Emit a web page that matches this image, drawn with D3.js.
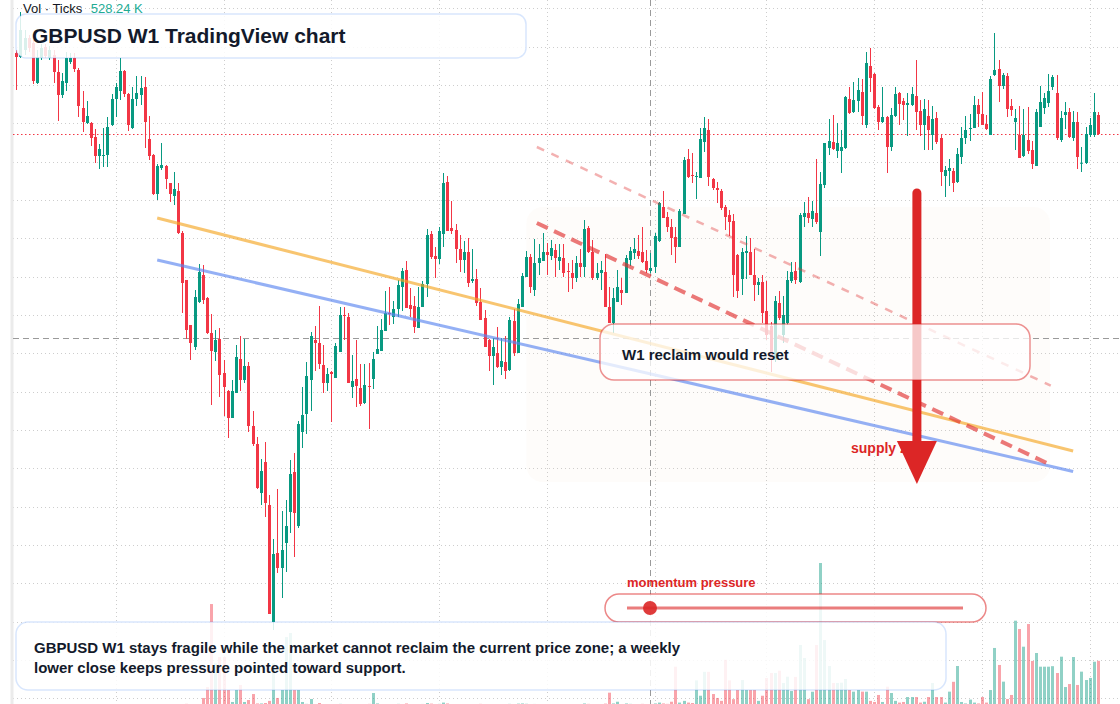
<!DOCTYPE html>
<html>
<head>
<meta charset="utf-8">
<script src="https://cdn.jsdelivr.net/npm/d3@7.9.0/dist/d3.min.js"></script>
<style>
  html, body { margin: 0; padding: 0; background: #fff; }
  svg { display: block; font-family: "Liberation Sans", Arial, Helvetica, sans-serif; }
</style>
</head>
<body>
<svg id="chart" width="1120" height="704"></svg>
<script>
// GBPUSD weekly bars, [open, high, low, close]
const candles = [
  [1.647,1.650,1.610,1.643],[1.643,1.688,1.642,1.670],[1.650,1.670,1.645,1.662],[1.662,1.665,1.648,1.652],[1.657,1.660,1.616,1.619],
  [1.617,1.650,1.616,1.643],[1.642,1.656,1.640,1.652],[1.653,1.656,1.642,1.644],[1.642,1.654,1.640,1.650],[1.645,1.650,1.617,1.628],
  [1.628,1.640,1.579,1.605],[1.605,1.627,1.602,1.619],[1.617,1.648,1.609,1.642],[1.638,1.647,1.636,1.642],[1.642,1.647,1.628,1.631],
  [1.630,1.632,1.583,1.594],[1.592,1.609,1.568,1.578],[1.577,1.599,1.576,1.584],[1.577,1.578,1.554,1.562],[1.563,1.571,1.537,1.544],
  [1.544,1.556,1.531,1.551],[1.544,1.572,1.533,1.545],[1.545,1.583,1.533,1.573],[1.575,1.606,1.574,1.601],[1.601,1.617,1.583,1.613],
  [1.609,1.642,1.600,1.629],[1.629,1.630,1.603,1.606],[1.606,1.607,1.569,1.575],[1.572,1.613,1.571,1.601],[1.601,1.624,1.594,1.607],
  [1.605,1.624,1.595,1.612],[1.613,1.623,1.552,1.578],[1.561,1.584,1.540,1.544],[1.545,1.546,1.505,1.506],[1.506,1.536,1.500,1.534],
  [1.532,1.557,1.530,1.535],[1.534,1.535,1.511,1.521],[1.517,1.517,1.498,1.506],[1.504,1.528,1.495,1.511],[1.509,1.517,1.466,1.467],
  [1.467,1.469,1.387,1.417],[1.420,1.420,1.361,1.370],[1.375,1.375,1.340,1.357],[1.353,1.410,1.350,1.403],[1.398,1.436,1.397,1.428],
  [1.425,1.435,1.396,1.400],[1.402,1.403,1.366,1.367],[1.367,1.386,1.295,1.349],[1.348,1.370,1.339,1.360],[1.361,1.372,1.303,1.325],
  [1.327,1.340,1.284,1.313],[1.309,1.310,1.262,1.282],[1.282,1.320,1.282,1.309],[1.307,1.355,1.307,1.343],[1.341,1.364,1.309,1.320],
  [1.320,1.361,1.317,1.334],[1.334,1.338,1.268,1.274],[1.274,1.289,1.254,1.256],[1.256,1.263,1.211,1.212],[1.207,1.241,1.195,1.229],
  [1.238,1.258,1.183,1.197],[1.195,1.205,1.086,1.086],[1.078,1.161,1.070,1.146],[1.147,1.211,1.127,1.132],[1.132,1.189,1.102,1.150],
  [1.157,1.200,1.128,1.174],[1.188,1.240,1.167,1.226],[1.228,1.247,1.143,1.187],[1.174,1.279,1.172,1.276],[1.268,1.313,1.252,1.285],
  [1.286,1.338,1.266,1.324],[1.320,1.368,1.289,1.364],[1.360,1.374,1.329,1.357],[1.357,1.394,1.331,1.336],[1.335,1.355,1.307,1.317],
  [1.317,1.332,1.309,1.326],[1.328,1.329,1.278,1.326],[1.322,1.357,1.322,1.354],[1.348,1.393,1.348,1.385],[1.385,1.393,1.360,1.384],
  [1.383,1.387,1.317,1.317],[1.313,1.345,1.302,1.319],[1.321,1.360,1.293,1.314],[1.312,1.336,1.294,1.296],[1.297,1.336,1.296,1.315],
  [1.314,1.337,1.271,1.313],[1.321,1.348,1.311,1.341],[1.346,1.374,1.346,1.351],[1.349,1.381,1.349,1.370],[1.369,1.409,1.369,1.387],
  [1.387,1.413,1.375,1.386],[1.383,1.399,1.376,1.391],[1.391,1.420,1.383,1.415],[1.413,1.432,1.389,1.429],[1.430,1.439,1.392,1.392],
  [1.395,1.412,1.383,1.391],[1.394,1.404,1.367,1.373],[1.372,1.413,1.372,1.393],[1.393,1.419,1.393,1.416],[1.416,1.471,1.403,1.465],
  [1.466,1.469,1.441,1.443],[1.444,1.453,1.422,1.441],[1.441,1.473,1.436,1.469],[1.466,1.527,1.453,1.517],[1.518,1.524,1.469,1.469],
  [1.472,1.499,1.466,1.469],[1.470,1.476,1.437,1.451],[1.451,1.465,1.428,1.440],[1.440,1.459,1.427,1.448],[1.448,1.462,1.413,1.417],
  [1.419,1.451,1.417,1.421],[1.421,1.431,1.394,1.397],[1.398,1.412,1.380,1.380],[1.382,1.390,1.353,1.353],[1.360,1.361,1.329,1.344],
  [1.344,1.362,1.315,1.353],[1.347,1.373,1.332,1.333],[1.333,1.362,1.325,1.339],[1.338,1.364,1.321,1.329],[1.330,1.383,1.329,1.380],
  [1.379,1.391,1.344,1.347],[1.347,1.401,1.347,1.396],[1.393,1.427,1.393,1.424],[1.423,1.449,1.423,1.443],[1.443,1.446,1.407,1.413],
  [1.410,1.461,1.404,1.437],[1.437,1.456,1.425,1.442],[1.439,1.467,1.439,1.448],[1.448,1.457,1.425,1.445],[1.444,1.460,1.440,1.452],
  [1.450,1.456,1.423,1.442],[1.439,1.456,1.430,1.443],[1.442,1.456,1.423,1.427],[1.429,1.437,1.408,1.428],[1.427,1.440,1.411,1.422],
  [1.422,1.444,1.418,1.437],[1.437,1.451,1.423,1.433],[1.433,1.480,1.423,1.471],[1.472,1.474,1.447,1.448],[1.448,1.460,1.420,1.422],
  [1.422,1.437,1.420,1.427],[1.427,1.439,1.410,1.430],[1.428,1.446,1.393,1.393],[1.393,1.413,1.377,1.377],[1.377,1.412,1.367,1.402],
  [1.398,1.430,1.398,1.413],[1.410,1.422,1.395,1.407],[1.407,1.445,1.407,1.442],[1.440,1.453,1.434,1.449],[1.447,1.462,1.441,1.451],
  [1.449,1.465,1.441,1.444],[1.448,1.473,1.437,1.438],[1.439,1.450,1.427,1.430],[1.429,1.447,1.427,1.432],[1.433,1.467,1.427,1.464],
  [1.459,1.498,1.458,1.497],[1.493,1.509,1.482,1.482],[1.483,1.488,1.468,1.473],[1.473,1.481,1.445,1.462],[1.463,1.473,1.437,1.453],
  [1.453,1.491,1.453,1.489],[1.486,1.543,1.486,1.540],[1.541,1.551,1.522,1.523],[1.525,1.547,1.517,1.524],[1.523,1.528,1.501,1.524],
  [1.522,1.572,1.522,1.561],[1.558,1.583,1.548,1.572],[1.570,1.581,1.514,1.523],[1.521,1.522,1.510,1.512],[1.512,1.518,1.497,1.510],
  [1.509,1.511,1.490,1.492],[1.493,1.495,1.470,1.483],[1.485,1.490,1.464,1.478],[1.479,1.486,1.403,1.425],[1.445,1.446,1.402,1.409],
  [1.421,1.452,1.405,1.448],[1.447,1.464,1.421,1.449],[1.448,1.462,1.425,1.425],[1.425,1.451,1.399,1.415],[1.415,1.422,1.405,1.418],
  [1.418,1.425,1.377,1.387],[1.389,1.419,1.360,1.365],[1.374,1.378,1.328,1.342],[1.340,1.404,1.338,1.399],[1.397,1.409,1.380,1.382],
  [1.365,1.404,1.357,1.385],[1.377,1.429,1.375,1.420],[1.419,1.438,1.417,1.428],[1.429,1.438,1.416,1.420],[1.418,1.487,1.417,1.485],
  [1.483,1.498,1.473,1.487],[1.487,1.503,1.477,1.482],[1.481,1.499,1.473,1.489],[1.487,1.541,1.476,1.478],[1.468,1.528,1.444,1.516],
  [1.515,1.557,1.512,1.557],[1.552,1.581,1.545,1.559],[1.558,1.585,1.550,1.551],[1.549,1.577,1.542,1.557],[1.549,1.570,1.527,1.553],
  [1.552,1.604,1.551,1.603],[1.601,1.613,1.586,1.587],[1.588,1.618,1.587,1.600],[1.599,1.622,1.588,1.610],[1.608,1.621,1.575,1.584],
  [1.575,1.648,1.572,1.637],[1.634,1.652,1.608,1.622],[1.626,1.627,1.591,1.592],[1.593,1.595,1.570,1.578],[1.578,1.613,1.577,1.583],
  [1.583,1.584,1.527,1.553],[1.553,1.592,1.549,1.585],[1.584,1.613,1.583,1.606],[1.607,1.608,1.575,1.596],[1.599,1.602,1.580,1.595],
  [1.595,1.607,1.564,1.597],[1.595,1.613,1.594,1.606],[1.604,1.640,1.570,1.588],[1.589,1.600,1.564,1.575],[1.575,1.601,1.550,1.591],
  [1.584,1.600,1.550,1.570],[1.565,1.594,1.550,1.581],[1.582,1.588,1.556,1.558],[1.562,1.565,1.514,1.528],[1.524,1.534,1.503,1.530],
  [1.529,1.541,1.514,1.532],[1.529,1.532,1.508,1.517],[1.518,1.552,1.517,1.546],[1.543,1.573,1.536,1.562],[1.562,1.584,1.556,1.570],
  [1.571,1.586,1.559,1.572],[1.572,1.604,1.572,1.595],[1.595,1.601,1.573,1.586],[1.586,1.608,1.575,1.575],[1.576,1.585,1.570,1.571],
  [1.565,1.624,1.565,1.621],[1.625,1.667,1.624,1.630],[1.631,1.640,1.598,1.614],[1.614,1.627,1.611,1.625],[1.624,1.627,1.583,1.591],
  [1.594,1.601,1.584,1.590],[1.578,1.591,1.550,1.582],[1.565,1.594,1.542,1.542],[1.544,1.591,1.543,1.565],[1.560,1.593,1.546,1.549],
  [1.550,1.559,1.531,1.536],[1.534,1.591,1.534,1.588],[1.573,1.614,1.573,1.598],[1.592,1.607,1.586,1.602],[1.597,1.626,1.593,1.609],
  [1.613,1.625,1.610,1.623],[1.607,1.625,1.560,1.562],[1.560,1.589,1.558,1.582],[1.585,1.598,1.571,1.588],[1.588,1.592,1.562,1.563],
  [1.562,1.589,1.559,1.578],[1.578,1.588,1.531,1.543],[1.5365,1.553,1.528,1.5373],[1.537,1.573,1.536,1.566],[1.565,1.582,1.563,1.575],
  [1.565,1.607,1.563,1.588],[1.585,1.588,1.565,1.566]
];

// tick volume, thousands
const volumes = [
  12,15,10,9,14,11,8,10,13,9,
  16,12,10,8,9,14,12,10,11,13,
  9,10,12,11,8,10,9,12,10,8,
  9,14,12,15,11,10,9,12,14,18,
  22,25,20,18,16,94,222,1193,500,573,
  573,187,47,187,246,47,70,140,30,30,
  35,60,500,94,187,807,854,187,187,47,
  25,82,20,35,20,18,22,15,25,20,
  18,15,22,20,18,25,152,30,22,18,
  20,16,25,22,30,18,15,20,24,35,
  28,20,25,40,30,22,18,20,16,22,
  18,20,25,22,18,15,20,18,16,25,
  22,28,30,26,20,24,18,20,22,18,
  20,16,22,18,15,20,18,30,25,22,
  18,20,28,156,30,50,22,30,25,20,
  22,25,20,18,30,40,30,25,50,460,
  40,60,40,35,300,120,400,400,140,94,
  60,540,300,80,187,304,187,187,187,60,
  120,328,386,386,413,269,343,175,340,714,
  562,80,167,714,1673,772,468,269,269,273,
  316,187,168,187,168,168,60,47,129,47,
  226,152,60,40,47,105,105,105,40,50,
  105,269,105,105,40,168,283,468,47,30,
  75,40,30,105,40,187,679,480,285,82,
  129,998,901,694,959,527,620,460,460,460,
  466,386,577,222,257,573,246,402,304,328,
  518,528.24
];

// half-year separators (bar index)
const periodBreaks = [24, 50, 76, 102, 128, 154, 181, 207, 233, 259];
const crossBar = 153;
const crossPrice = 1.362;

// drawn levels: [bar, price] pairs
const orangeTrend = [[34, 1.482], [255, 1.249]];
const blueTrend = [[34, 1.440], [255, 1.2285]];
const upperChannel = [[125.6, 1.553], [249.6, 1.3144]];
const lowerChannel = [[125.6, 1.477], [249.7, 1.235]];
const zoneBars = [123.1, 249.4];
const zonePrices = [1.493, 1.218];
const arrowBar = 217.3;
const arrowPrices = [1.507, 1.259, 1.216];

const W = 1120, H = 704;
const svg = d3.select("#chart");

const x = d3.scaleLinear().domain([0, candles.length - 1]).range([16.3, 1098]);
const y = d3.scaleLinear().domain([1.0, 1.7]).range([700, 0]);
const vy = d3.scaleLinear().domain([0, 1700]).range([706, 560.7]);

const UP = "#089981", DOWN = "#f23645";

svg.append("rect").attr("width", W).attr("height", H).attr("fill", "#fff");

// grid
const gridLevels = d3.range(19).map(k => 1.6915 - k * 0.03833);
svg.append("g").selectAll("line").data(gridLevels).join("line")
  .attr("x1", 13).attr("x2", W)
  .attr("y1", d => Math.round(y(d)) + 0.5).attr("y2", d => Math.round(y(d)) + 0.5)
  .attr("stroke", "#cdcdcd").attr("stroke-dasharray", "1 3");
svg.append("g").selectAll("line").data(periodBreaks).join("line")
  .attr("x1", d => Math.round(x(d)) + 0.5).attr("x2", d => Math.round(x(d)) + 0.5)
  .attr("y1", 0).attr("y2", H)
  .attr("stroke", "#cdcdcd").attr("stroke-dasharray", "1 3");

// left scale edge
svg.append("rect").attr("x", 10.5).attr("y", 0).attr("width", 3).attr("height", H).attr("fill", "#ebebeb");

// supply zone shading
svg.append("rect")
  .attr("x", x(zoneBars[0])).attr("y", y(zonePrices[0]))
  .attr("width", x(zoneBars[1]) - x(zoneBars[0]))
  .attr("height", y(zonePrices[1]) - y(zonePrices[0]))
  .attr("rx", 16).attr("fill", "rgba(240,215,190,0.07)");

// volume
svg.append("g").selectAll("rect").data(volumes).join("rect")
  .attr("x", (d, i) => Math.round(x(i)) - 1)
  .attr("width", 3)
  .attr("y", d => vy(d))
  .attr("height", d => vy(0) - vy(d))
  .attr("fill", (d, i) => candles[i][3] >= candles[i][0] ? UP : DOWN)
  .attr("fill-opacity", 0.45);

// crosshair + last price line
svg.append("line").attr("x1", 13).attr("x2", W)
  .attr("y1", Math.round(y(crossPrice)) + 0.5).attr("y2", Math.round(y(crossPrice)) + 0.5)
  .attr("stroke", "#9a9a9a").attr("stroke-dasharray", "6 4");
svg.append("line").attr("x1", Math.round(x(crossBar)) + 0.5).attr("x2", Math.round(x(crossBar)) + 0.5)
  .attr("y1", 0).attr("y2", H)
  .attr("stroke", "#9a9a9a").attr("stroke-dasharray", "6 4");
const lastClose = candles[candles.length - 1][3];
svg.append("line").attr("x1", 13).attr("x2", W)
  .attr("y1", Math.round(y(lastClose)) + 0.5).attr("y2", Math.round(y(lastClose)) + 0.5)
  .attr("stroke", DOWN).attr("stroke-dasharray", "1.5 2.5");

// candles
const bars = svg.append("g").selectAll("g").data(candles).join("g");
bars.append("line")
  .attr("x1", (d, i) => Math.round(x(i)) + 0.5).attr("x2", (d, i) => Math.round(x(i)) + 0.5)
  .attr("y1", d => y(d[1])).attr("y2", d => y(d[2]))
  .attr("stroke", d => d[3] >= d[0] ? UP : DOWN);
bars.append("rect")
  .attr("x", (d, i) => Math.round(x(i)) - 1)
  .attr("width", 3)
  .attr("y", d => y(Math.max(d[0], d[3])))
  .attr("height", d => Math.max(1, Math.abs(y(d[0]) - y(d[3]))))
  .attr("fill", d => d[3] >= d[0] ? UP : DOWN);

// trend lines
const seg = (pts) => d3.line().x(p => x(p[0])).y(p => y(p[1]))(pts);
svg.append("path").attr("d", seg(orangeTrend)).attr("stroke", "#f5a623").attr("stroke-opacity", 0.65)
  .attr("stroke-width", 3).attr("fill", "none");
svg.append("path").attr("d", seg(blueTrend)).attr("stroke", "#5b86f0").attr("stroke-opacity", 0.65)
  .attr("stroke-width", 3).attr("fill", "none");
svg.append("path").attr("d", seg(upperChannel)).attr("stroke", "#e03131").attr("stroke-opacity", 0.38)
  .attr("stroke-width", 2.5).attr("stroke-dasharray", "8 8").attr("fill", "none");
svg.append("path").attr("d", seg(lowerChannel)).attr("stroke", "#e03131").attr("stroke-opacity", 0.65)
  .attr("stroke-width", 4).attr("stroke-dasharray", "12 7").attr("fill", "none");

// supply label + arrow
svg.append("text").attr("x", 851).attr("y", 453).attr("font-size", 14).attr("font-weight", 700)
  .attr("fill", "#dc2626").text("supply zone");
const ax = x(arrowBar);
svg.append("line").attr("x1", ax).attr("x2", ax)
  .attr("y1", y(arrowPrices[0])).attr("y2", y(arrowPrices[1]) + 4)
  .attr("stroke", "#dc2626").attr("stroke-width", 9).attr("stroke-linecap", "round");
svg.append("path")
  .attr("d", `M${ax - 20},${y(arrowPrices[1])}L${ax + 20},${y(arrowPrices[1])}L${ax},${y(arrowPrices[2])}Z`)
  .attr("fill", "#dc2626");

// note boxes
function box(x0, y0, w, h, r, stroke, fillOpacity) {
  svg.append("rect").attr("x", x0).attr("y", y0).attr("width", w).attr("height", h).attr("rx", r)
    .attr("fill", "#fff").attr("fill-opacity", fillOpacity)
    .attr("stroke", stroke).attr("stroke-width", 1.5);
}

box(600, 324, 430, 56, 14, "rgba(220,38,38,0.5)", 0.75);
svg.append("text").attr("x", 622).attr("y", 359.5).attr("font-size", 15).attr("font-weight", 700)
  .attr("fill", "#131a2b").text("W1 reclaim would reset");

box(16, 14, 510, 44, 10, "rgba(59,130,246,0.2)", 0.85);
svg.append("text").attr("x", 32).attr("y", 43.3).attr("font-size", 21).attr("font-weight", 700)
  .attr("fill", "#131a2b").text("GBPUSD W1 TradingView chart");

// momentum gauge
svg.append("text").attr("x", 627).attr("y", 587).attr("font-size", 13).attr("font-weight", 700)
  .attr("fill", "#dc2626").text("momentum pressure");
box(605, 594, 381, 28, 14, "rgba(220,38,38,0.55)", 0.85);
svg.append("line").attr("x1", 627).attr("x2", 963).attr("y1", 608).attr("y2", 608)
  .attr("stroke", "#dc2626").attr("stroke-opacity", 0.6).attr("stroke-width", 3);
svg.append("circle").attr("cx", 650).attr("cy", 608).attr("r", 7).attr("fill", "#dc2626").attr("fill-opacity", 0.9);

box(16, 622, 930, 68, 12, "rgba(59,130,246,0.2)", 0.85);
const note = svg.append("text").attr("font-size", 15).attr("font-weight", 700).attr("fill", "#131a2b");
note.append("tspan").attr("x", 34).attr("y", 653)
  .text("GBPUSD W1 stays fragile while the market cannot reclaim the current price zone; a weekly");
note.append("tspan").attr("x", 34).attr("y", 673)
  .text("lower close keeps pressure pointed toward support.");

// volume legend
const leg = svg.append("text").attr("y", 13).attr("font-size", 13).attr("fill", "#131722");
leg.append("tspan").attr("x", 23).text("Vol · Ticks");
leg.append("tspan").attr("x", 90.7).attr("fill", "#22ab94").text(d3.format(".2f")(volumes[volumes.length - 1]) + " K");
</script>
</body>
</html>
